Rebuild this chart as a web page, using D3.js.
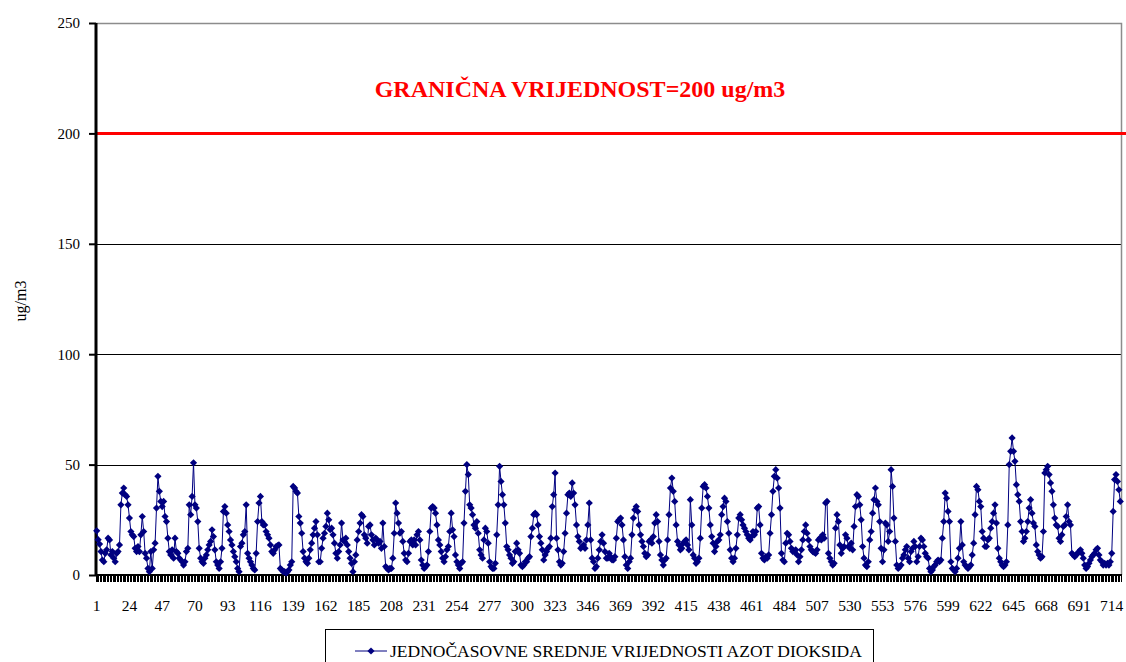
<!DOCTYPE html>
<html>
<head>
<meta charset="utf-8">
<script src="https://cdn.jsdelivr.net/npm/d3@7"></script>
<style>
  body { margin: 0; background: #fff; }
  svg { display: block; }
</style>
</head>
<body>
<svg id="chart" width="1126" height="662"></svg>
<script>
/*************************
 *
 *  data
 *
*************************/

// hourly NO2 means, 720 hours
const no2 = [
  20,16,14,10.6,6.8,6,9.8,11.4,16.7,15.9,9.1,10.6,7.6,6,9.8,10.6,13.6,31.8,37.1,39.4,
  36.4,35.6,31.8,25.8,19.7,18.2,17.4,12.1,10.6,12.9,10.6,18.2,26.5,19.7,9.8,7.6,3,1.5,10.6,3,
  11.4,14.4,30.3,44.7,37.9,33.3,31,33.3,26.5,24.2,16.7,10.6,9.1,11.4,7.6,16.7,10.6,9.8,7.6,6.8,
  6,4.5,6,10.6,12.1,31.8,27.3,35.6,50.8,31.8,30.3,24.2,12.1,7.6,6,5.3,7.6,9.1,11.4,13.6,
  15.2,20.5,17.4,11.4,6,4.5,3,6,12.1,28.8,31,28,22.7,19.7,15.9,13.6,10.6,8.3,6,3,
  1.5,12.9,14.4,18.2,19.7,31.8,9.8,7.6,6,4.5,3,2.3,9.8,24.2,32.6,35.6,24.2,22.7,22.7,19.7,
  18.2,16.7,
  13.6,10.6,9.8,11.4,12.9,13.3,13.6,3,2.3,1.5,1.5,0.8,1.5,2.3,4.5,6,40.1,39.4,37.9,37.1,
  26.5,23.5,18.9,10.6,7.6,6,5.3,7.6,11.4,14.4,18.2,21.2,24.2,18.2,6,6,12.1,16.7,18.9,22,
  28,25,20.5,21.2,18.2,14.4,9.8,7.6,10.6,13.6,23.5,15.9,15.2,16.7,13.6,10.6,7.6,5.3,1.5,6,
  9.1,15.9,19.7,23.5,27.3,26.5,18.2,16.7,14.4,22,22.7,18.2,15.9,13.6,16.7,15.9,14.4,15.2,12.1,23.5,
  12.9,3.8,3,2.3,3,3,7.6,18.9,32.6,28,23.5,18.9,19.7,15.2,9.8,6.8,6,9.8,15.2,15.9,
  13.6,15.9,13.6,18.2,19.7,15.9,6.8,4.5,3,3.8,4.5,10.6,19.7,30.3,31,30.3,28,22.7,15.9,13.6,
  10.6,7.6,6,8.3,11.4,12.9,19.7,28,20.5,17.4,9.1,6,4.5,3,5.3,6,23.5,37.9,50,45.5,
  31.8,30.3,27.3,22.7,21.2,24.2,18.9,11.4,9.1,7.6,15.9,21.2,19.7,14.4,6,3.8,3,3,5.3,18.2,
  31.8,49.2,42.4,36.4,31.8,23.5,12.9,11.4,9.1,7.6,5.3,6,10.6,14.4,11.4,9.8,4.5,3.8,4.5,6,
  6,7.6,8.3,17.4,21.2,27.3,28,27.3,22.7,17.4,14.4,11.4,6.8,9.1,10.6,12.1,12.9,16.7,31,36.4,
  46.2,16.7,11.4,6,4.5,5.3,10.6,18.9,28,36.4,37.1,35.6,41.7,37.1,31.8,22.7,17.4,15.2,12.1,12.9,
  13.6,12.1,15.9,22.7,32.6,15.9,7.6,6,3,3.8,7.6,11.4,15.2,18.2,14.4,10.6,7.6,7.6,
  9.8,8.3,6.8,6.8,8.3,16.7,24.2,25,25.8,22.7,15.9,8.3,4.5,3,6,7.6,18.2,25.8,29.5,31,
  28.8,22.7,18.2,15.2,12.9,9.8,8.3,9.1,15.2,15.9,14.4,17.4,23.5,27.3,24.2,15.2,9.1,6.8,4.5,6.8,
  7.6,15.9,27.3,39.4,43.9,37.9,33.3,22.7,15.2,13.6,11.4,12.1,14.4,15.2,15.9,13.6,11.4,34.1,22.7,9.1,
  7.6,5.3,6,7.6,16.7,30.3,40.1,40.9,39.4,35.6,30.3,22.7,17.4,14.4,10.6,12.9,15.2,15.9,18.2,27.3,
  31,34.8,33.3,24.2,18.9,11.4,7.6,6,7.6,12.1,18.2,25.8,27.3,25,22.7,21.2,19.7,18.2,16.7,15.9,
  17.4,19.7,18.2,19.7,30.3,31,22.7,9.8,7.6,6.8,8.3,7.6,9.1,18.9,27.3,37.9,44.7,47.7,43.9,39.4,
  30.3,
  9.8,6.8,6,14.4,18.9,18.2,15.2,12.1,10.6,10.6,11.4,9.1,6,8.3,11.4,15.9,19.7,22.7,18.9,15.9,
  12.9,11.4,10.6,10.2,9.8,11.4,15.9,16.7,15.9,18.2,16.7,32.6,33.3,9.8,7.6,6,4.5,5.3,21.2,27.3,
  24.2,13.6,9.8,12.1,12.9,18.2,16.7,12.9,12.1,14.4,11.4,22,31,36.4,35.6,31.8,25,12.9,7.6,4.5,
  3.8,6,15.9,19.7,28,34.1,39.4,33.3,31.8,24.2,12.1,6,11.4,23.5,22.7,15.2,19.7,47.7,40.1,25.8,
  15.2,4.5,3,3.8,4.5,7.6,9.1,11.4,12.9,7.6,6,10.6,12.1,15.2,12.9,6,8.3,12.9,16.7,15.9,
  12.9,9.8,8.3,7.6,3,1.5,2.3,3.8,4.5,6,6.8,6,6.8,16.7,24.2,37.1,34.8,28.8,24.2,
  6,3,2.3,1.5,3,7.6,12.1,24.2,13.6,6,4.5,3.8,3,3.8,4.5,9.1,14.4,27.3,40.1,38.6,
  33.3,31,19.7,16.7,12.9,12.9,15.9,16.7,21.2,24.2,28,31.8,23.5,12.1,7.6,6,4.5,3.8,4.5,6,
  22.7,50,56,62.1,56,51.5,40.9,36.4,33.3,24.2,19.7,15.2,16.7,19.7,24.2,30.3,34.1,28,23.5,22,
  13.6,10.6,9.1,7.6,8.3,19.7,46.2,47.7,49.2,45.5,41.7,37.9,31.8,25.8,22.7,22,16.7,15.2,18.2,22,
  22.7,26.5,31.8,24.2,22.7,9.8,9.1,8.3,9.1,9.8,10.6,11.4,9.8,7.6,4.5,3,3.8,5.3,6.8,8.3,
  9.1,9.8,11.4,12.1,9.1,6.8,6,4.5,5.3,4.5,5.3,4.5,6,9.8,28.8,43.2,45.5,42.4,38.6,33.3
]

const hours = no2.map((d, i) => i + 1)

const yTicks = [0, 50, 100, 150, 200, 250]
const gridValues = [50, 100, 150]
const xLabels = [1, 24, 47, 70, 93, 116, 139, 162, 185, 208, 231, 254, 277, 300, 323, 346,
  369, 392, 415, 438, 461, 484, 507, 530, 553, 576, 599, 622, 645, 668, 691, 714]

const limitValue = 200
const limitText = 'GRANIČNA VRIJEDNOST=200 ug/m3'
const yTitle = 'ug/m3'
const legendText = 'JEDNOČASOVNE SREDNJE VRIJEDNOSTI AZOT DIOKSIDA'

/*************************
 *
 *  scales
 *
*************************/

const plot = {left: 96, right: 1121, top: 23, bottom: 575}
const serif = '"Liberation Serif", "Times New Roman", serif'
const navy = '#000080'

let x = d3.scaleBand()
    .domain(hours)
    .range([plot.left, plot.right])

let y = d3.scaleLinear()
    .domain([0, 250])
    .range([plot.bottom, plot.top])

const cx = d => x(d) + x.bandwidth() / 2

let svg = d3.select('#chart')

/*************************
 *
 *  grid + frame
 *
*************************/

svg.append('g')
    .selectAll('line')
    .data(gridValues)
    .join('line')
    .attr('x1', plot.left)
    .attr('x2', plot.right)
    .attr('y1', d => Math.round(y(d)) + 0.5)
    .attr('y2', d => Math.round(y(d)) + 0.5)
    .attr('stroke', '#000')
    .attr('stroke-width', 1)

// top + right border of plot area
svg.append('path')
    .attr('d', `M${plot.left},${plot.top + 0.5}H${plot.right + 0.5}V${plot.bottom}`)
    .attr('fill', 'none')
    .attr('stroke', '#8c8c8c')
    .attr('stroke-width', 1.5)

// limit line at 200
svg.append('line')
    .attr('x1', plot.left)
    .attr('x2', 1126)
    .attr('y1', y(limitValue))
    .attr('y2', y(limitValue))
    .attr('stroke', '#ff0000')
    .attr('stroke-width', 3)

svg.append('text')
    .attr('x', 580)
    .attr('y', 97)
    .attr('text-anchor', 'middle')
    .attr('fill', '#ff0000')
    .style('font-family', serif)
    .style('font-weight', 'bold')
    .style('font-size', '24px')
    .text(limitText)

/*************************
 *
 *  axes
 *
*************************/

let axisLeft = d3.axisLeft(y)
    .tickValues(yTicks)
    .tickSize(7)
    .tickSizeOuter(0)
    .tickPadding(9)

let gy = svg.append('g')
    .attr('transform', `translate(${plot.left}, 0)`)
    .call(axisLeft)

gy.select('.domain').remove()
gy.selectAll('.tick line').attr('stroke', '#000').attr('stroke-width', 2)
gy.selectAll('.tick text')
    .style('font-family', serif)
    .style('font-size', '15px')
    .attr('fill', '#000')

// category tick marks, one per hour boundary
svg.append('g')
    .attr('shape-rendering', 'crispEdges')
    .selectAll('line')
    .data(hours.concat(['end']))
    .join('line')
    .attr('x1', d => d === 'end' ? plot.right : x(d))
    .attr('x2', d => d === 'end' ? plot.right : x(d))
    .attr('y1', plot.bottom)
    .attr('y2', plot.bottom + 7)
    .attr('stroke', '#000')
    .attr('stroke-width', 1)

let axisBottom = d3.axisBottom(x)
    .tickValues(xLabels)
    .tickSize(0)
    .tickPadding(25)

let gx = svg.append('g')
    .attr('transform', `translate(0, ${plot.bottom})`)
    .call(axisBottom)

gx.select('.domain').remove()
gx.selectAll('.tick text')
    .style('font-family', serif)
    .style('font-size', '15.5px')
    .attr('fill', '#000')

// axis lines
svg.append('line')
    .attr('x1', plot.left - 1).attr('x2', plot.right + 1)
    .attr('y1', plot.bottom).attr('y2', plot.bottom)
    .attr('stroke', '#000').attr('stroke-width', 2)

svg.append('line')
    .attr('x1', plot.left).attr('x2', plot.left)
    .attr('y1', plot.top).attr('y2', plot.bottom + 1)
    .attr('stroke', '#000').attr('stroke-width', 3)

svg.append('text')
    .attr('transform', `translate(26, ${(plot.top + plot.bottom) / 2 + 2}) rotate(-90)`)
    .attr('text-anchor', 'middle')
    .style('font-family', serif)
    .style('font-size', '16px')
    .text(yTitle)

/*************************
 *
 *  series
 *
*************************/

const diamond = 'M0,-3.6L3.6,0L0,3.6L-3.6,0Z'

svg.append('path')
    .datum(no2)
    .attr('fill', 'none')
    .attr('stroke', navy)
    .attr('stroke-width', 1)
    .attr('d', d3.line().x((d, i) => cx(hours[i])).y(d => y(d)))

svg.append('g')
    .selectAll('path')
    .data(no2)
    .join('path')
    .attr('transform', (d, i) => `translate(${cx(hours[i])}, ${y(d)})`)
    .attr('d', diamond)
    .attr('fill', navy)

/*************************
 *
 *  legend
 *
*************************/

let lg = svg.append('g')

lg.append('rect')
    .attr('x', 325.5)
    .attr('y', 629.5)
    .attr('width', 548)
    .attr('height', 60)
    .attr('fill', '#fff')
    .attr('stroke', '#000')
    .attr('stroke-width', 1)

lg.append('line')
    .attr('x1', 355).attr('x2', 387)
    .attr('y1', 651).attr('y2', 651)
    .attr('stroke', navy).attr('stroke-width', 1)

lg.append('path')
    .attr('transform', 'translate(371, 651)')
    .attr('d', diamond)
    .attr('fill', navy)

lg.append('text')
    .attr('x', 390)
    .attr('y', 657)
    .style('font-family', serif)
    .style('font-size', '17.5px')
    .text(legendText)
</script>
</body>
</html>
